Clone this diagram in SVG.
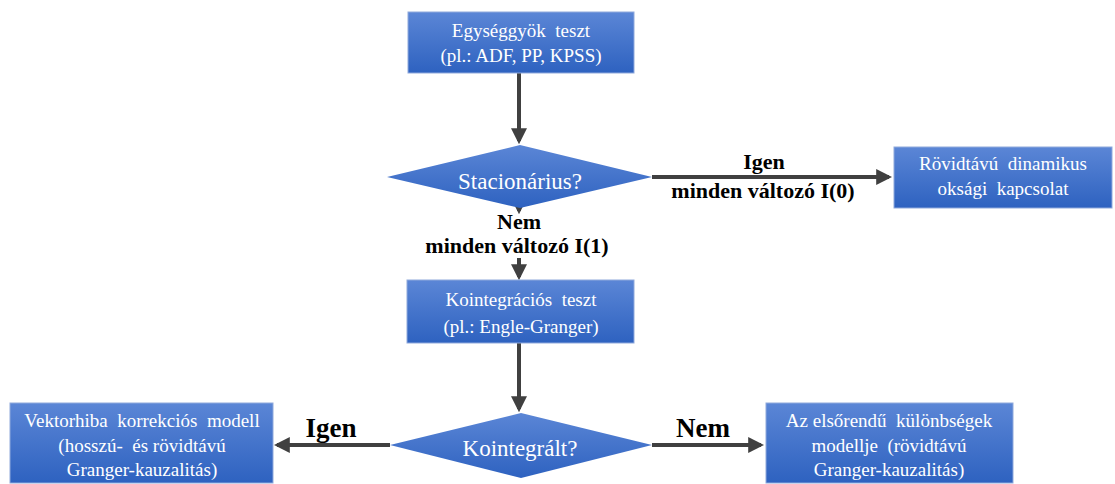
<svg xmlns="http://www.w3.org/2000/svg" width="1115" height="484" viewBox="0 0 1115 484">
<defs>
<linearGradient id="g" x1="0" y1="0" x2="0" y2="1">
<stop offset="0" stop-color="#5b86d6"/>
<stop offset="1" stop-color="#2e62c0"/>
</linearGradient>
<marker id="ah" markerWidth="4" markerHeight="4" refX="3.2" refY="2" orient="auto" markerUnits="strokeWidth">
<path d="M0,0 L4,2 L0,4 Z" fill="#404040"/>
</marker>
<style>
.box{fill:url(#g);stroke:#8fa9dc;stroke-width:1}
.dia{fill:url(#g)}
text{font-family:'Liberation Serif','Times New Roman','DejaVu Serif',serif}
.t{fill:#ffffff;text-anchor:middle;font-size:19px;white-space:pre}
.td{fill:#ffffff;text-anchor:middle;font-size:23px}
.lb{fill:#000;text-anchor:middle;font-weight:bold;font-size:22px}
.lb2{fill:#000;text-anchor:middle;font-weight:bold;font-size:27px}
.c{stroke:#404040;stroke-width:4;fill:none;marker-end:url(#ah)}
</style>
</defs>
<g id="connectors">
<path class="c" d="M519,73 L519,141"/>
<path class="c" d="M652,177 L889,177"/>
<path class="c" d="M519,208 L519,211"/>
<path class="c" d="M519,258 L519,277"/>
<path class="c" d="M519,343 L519,409"/>
<path class="c" d="M390,445 L277,445"/>
<path class="c" d="M652,445 L761,445"/>
<text class="lb" x="764" y="169">Igen</text>
<text class="lb" x="763" y="198">minden változó I(0)</text>
<text class="lb" x="519" y="229">Nem</text>
<text class="lb" x="517" y="253">minden változó I(1)</text>
<text class="lb2" x="331" y="437">Igen</text>
<text class="lb2" x="703" y="437">Nem</text>
</g>
<g id="n1">
<rect class="box" x="408" y="12" width="226" height="61"/>
<text class="t" x="521" y="37">Egységgyök  teszt</text>
<text class="t" x="521" y="62">(pl.: ADF, PP, KPSS)</text>
</g>
<g id="n2">
<polygon class="dia" points="387,177 520,145 652,177 520,208"/>
<text class="td" x="520" y="189">Stacionárius?</text>
</g>
<g id="n3">
<rect class="box" x="894" y="147" width="218" height="61"/>
<text class="t" x="1003" y="170">Rövidtávú  dinamikus</text>
<text class="t" x="1003" y="195">oksági  kapcsolat</text>
</g>
<g id="n4">
<rect class="box" x="407" y="280" width="227" height="63"/>
<text class="t" x="521" y="306">Kointegrációs  teszt</text>
<text class="t" x="521" y="333">(pl.: Engle-Granger)</text>
</g>
<g id="n5">
<polygon class="dia" points="390,445 521,413 652,445 521,478"/>
<text class="td" x="520" y="456">Kointegrált?</text>
</g>
<g id="n6">
<rect class="box" x="10" y="403" width="263" height="80"/>
<text class="t" x="142" y="427">Vektorhiba  korrekciós  modell</text>
<text class="t" x="142" y="452">(hosszú-  és rövidtávú</text>
<text class="t" x="142" y="476">Granger-kauzalitás)</text>
</g>
<g id="n7">
<rect class="box" x="766" y="403" width="247" height="80"/>
<text class="t" x="889" y="427">Az elsőrendű  különbségek</text>
<text class="t" x="889" y="452">modellje  (rövidtávú</text>
<text class="t" x="889" y="476">Granger-kauzalitás)</text>
</g>
</svg>
